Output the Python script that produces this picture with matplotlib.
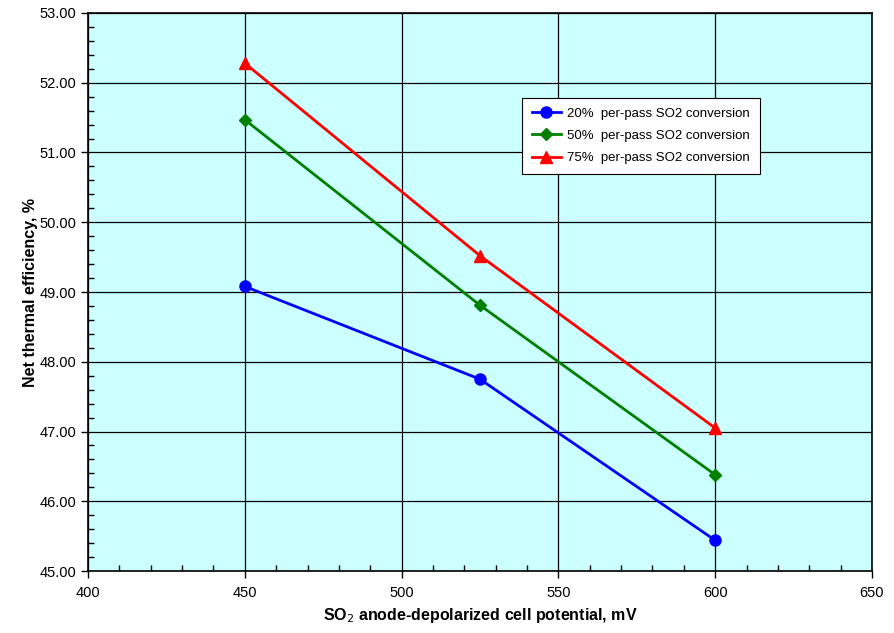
import matplotlib
matplotlib.use("Agg")
import matplotlib.pyplot as plt
from matplotlib.ticker import MultipleLocator, FormatStrFormatter

# Data
potential_mv = [450, 525, 600]
eff_20 = [49.08, 47.75, 45.44]
eff_50 = [51.47, 48.81, 46.38]
eff_75 = [52.28, 49.52, 47.05]
series_labels = [
    "20%  per-pass SO2 conversion",
    "50%  per-pass SO2 conversion",
    "75%  per-pass SO2 conversion",
]

plt.rcParams["font.family"] = ["Liberation Sans", "DejaVu Sans"]

fig = plt.figure(figsize=(8.95, 6.33), dpi=100)
ax = fig.add_axes([0.0983, 0.0979, 0.876, 0.8816])
ax.set_facecolor("#CCFFFF")

ax.plot(potential_mv, eff_20, color="#0000FF", lw=2, marker="o", ms=8,
        label=series_labels[0])
ax.plot(potential_mv, eff_50, color="#008000", lw=2, marker="D", ms=6,
        label=series_labels[1])
ax.plot(potential_mv, eff_75, color="#FF0000", lw=2, marker="^", ms=9,
        label=series_labels[2])

ax.set_xlim(400, 650)
ax.set_ylim(45, 53)
ax.xaxis.set_major_locator(MultipleLocator(50))
ax.xaxis.set_minor_locator(MultipleLocator(10))
ax.yaxis.set_major_locator(MultipleLocator(1))
ax.yaxis.set_minor_locator(MultipleLocator(0.2))
ax.yaxis.set_major_formatter(FormatStrFormatter("%.2f"))

ax.grid(True, which="major", color="black", lw=0.9)
ax.set_axisbelow(True)
ax.tick_params(which="major", direction="out", length=5, width=1,
               labelsize=10.5, colors="black")
ax.tick_params(axis="x", which="major", pad=6)
ax.tick_params(which="minor", direction="in", length=4, width=1)
for s in ax.spines.values():
    s.set_linewidth(1.2)

ax.set_xlabel("SO$_2$ anode-depolarized cell potential, mV", fontsize=11.5,
              fontweight="bold", labelpad=4)
ax.set_ylabel("Net thermal efficiency, %", fontsize=11.5, fontweight="bold",
              labelpad=1)

leg = ax.legend(loc="upper left", bbox_to_anchor=(0.5536, 0.848), fontsize=9.5,
                frameon=True, fancybox=False, edgecolor="black",
                framealpha=1, handlelength=2.2, borderpad=0.75,
                labelspacing=0.75, handletextpad=0.45, borderaxespad=0)
leg.get_frame().set_linewidth(0.8)

fig.savefig("out.png", dpi=100)
